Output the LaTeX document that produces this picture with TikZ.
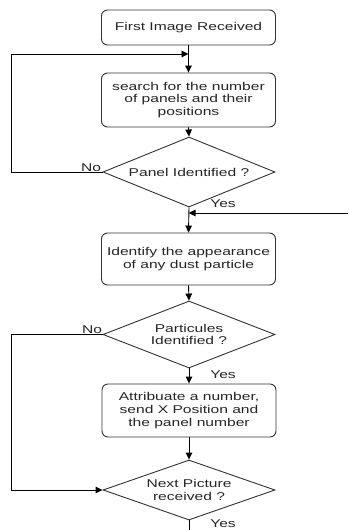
\documentclass[tikz,border=0pt]{standalone}
\usepackage{fontspec}
\setmainfont{Liberation Sans}[FakeStretch=1.38]
\usetikzlibrary{shapes.geometric,arrows.meta}
\begin{document}
\begin{tikzpicture}[x=1pt,y=-1pt,
  every node/.style={font=\fontsize{11.3}{12.6}\selectfont, text=black!85},
  procbox/.style={draw=black!80, line width=0.9pt, rounded corners=6pt, minimum width=174pt, align=center, inner sep=0pt},
  decision/.style={draw=black!80, line width=0.9pt, diamond, aspect=2.46, minimum width=172pt, align=center, inner sep=0pt},
  flow/.style={draw=black, line width=0.9pt, -{Triangle[length=7pt,width=6.5pt]}},
  plain/.style={draw=black, line width=0.9pt},
  lbl/.style={inner sep=0pt}]
\useasboundingbox[fill=white] (0,0) rectangle (348,530);

\node[procbox, minimum height=35pt] (b1) at (188.5,27.5) {First Image Received};
\node[procbox, minimum height=54pt] (b2) at (188.5,100) {search for the number\\of panels and their\\positions};
\node[decision, minimum height=70pt] (d1) at (189,172) {Panel Identified ?};
\node[procbox, minimum height=52pt] (b3) at (188.5,259) {Identify the appearance\\of any dust particle};
\node[decision, minimum height=67pt] (d2) at (189,334.5) {Particules\\Identified ?};
\node[procbox, minimum height=53pt] (b4) at (189,410.5) {Attribuate a number,\\send X Position and\\the panel number};
\node[decision, minimum height=60pt] (d3) at (189,490) {Next Picture\\received ?};

\coordinate (j1) at (188.5,54);
\coordinate (j2) at (188.5,213);
\coordinate (rin) at (348,213);
\coordinate (bot) at (189,530);

\draw[flow] (b1.south) -- (b2.north);
\draw[flow] (d1.west) -- ++(-91,0) |- (j1);
\draw[flow] (b2.south) -- (d1.north);
\draw[flow] (d1.south) -- (b3.north);
\draw[flow] (rin) -- (j2);
\draw[flow] (b3.south) -- (d2.north);
\draw[flow] (d2.south) -- (b4.north);
\draw[flow] (b4.south) -- (d3.north);
\draw[flow] (d2.west) -- ++(-91,0) |- (d3.west);
\draw[plain] (d3.south) -- (bot);

\node[lbl] (no1) at (91,168) {No};
\node[lbl] (no2) at (92,330) {No};
\node[lbl] (y1) at (223,204) {Yes};
\node[lbl] (y2) at (223,375) {Yes};
\node[lbl] (y3) at (223,524) {Yes};
\end{tikzpicture}
\end{document}
